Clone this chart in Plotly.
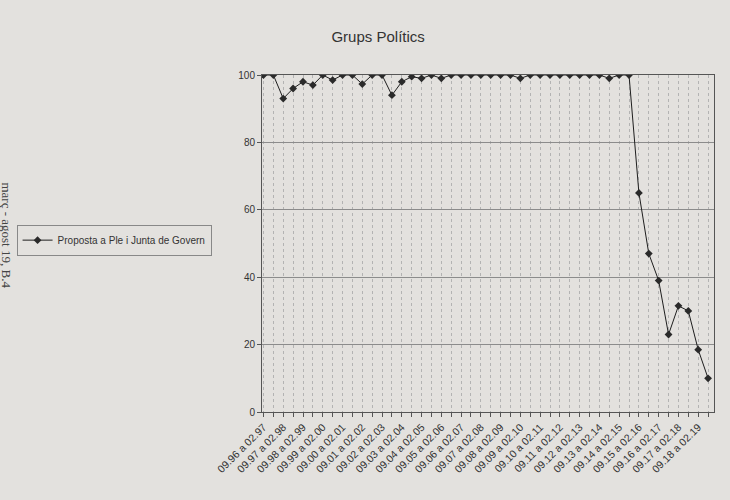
import plotly.graph_objects as go

periods = ["09.96 a 02.97", "09.97 a 02.98", "09.98 a 02.99", "09.99 a 02.00",
           "09.00 a 02.01", "09.01 a 02.02", "09.02 a 02.03", "09.03 a 02.04",
           "09.04 a 02.05", "09.05 a 02.06", "09.06 a 02.07", "09.07 a 02.08",
           "09.08 a 02.09", "09.09 a 02.10", "09.10 a 02.11", "09.11 a 02.12",
           "09.12 a 02.13", "09.13 a 02.14", "09.14 a 02.15", "09.15 a 02.16",
           "09.16 a 02.17", "09.17 a 02.18", "09.18 a 02.19"]

values = [100, 100, 93, 96, 98, 97, 100, 98.5, 100, 100,
          97.3, 100, 100, 94, 98, 99.5, 99, 100, 99, 100,
          100, 100, 100, 100, 100, 100, 99, 100, 100, 100,
          100, 100, 100, 100, 100, 99, 100, 100,
          65, 47, 39, 23, 31.5, 30, 18.5, 10]

series_name = "Proposta a Ple i Junta de Govern"

x = list(range(len(values)))
tick_text = []
for i in x:
    tick_text.append(periods[i // 2] if i % 2 == 0 else "")

fig = go.Figure()
fig.add_trace(go.Scatter(
    x=x, y=values, mode="lines+markers", name=series_name,
    line=dict(color="#1e1e1e", width=1),
    marker=dict(symbol="diamond", size=6, color="#2a2a2a"),
    showlegend=True,
))

fig.update_layout(
    width=730, height=500,
    paper_bgcolor="#e3e1de", plot_bgcolor="#e3e1de",
    margin=dict(l=262, r=16, t=75, b=88, autoexpand=False),
    font=dict(family="Liberation Sans, Arial, sans-serif", color="#333"),
    title=dict(text="Grups Polítics", x=0.518, xanchor="center",
               y=0.926, yanchor="middle", yref="container",
               font=dict(size=15, color="#333")),
    legend=dict(x=-0.543, xanchor="left", y=0.51, yanchor="middle",
                bgcolor="#e3e1de", bordercolor="#888", borderwidth=1,
                font=dict(size=10, color="#333")),
    annotations=[dict(text="març - agost 19, B.4", xref="paper", yref="paper",
                      x=-0.565, y=0.525, showarrow=False, textangle=90,
                      xanchor="center", yanchor="middle",
                      font=dict(family="Liberation Serif, serif", size=13, color="#444"))],
)

fig.update_xaxes(
    range=[-0.15, 45.6], tickmode="array", tickvals=x, ticktext=tick_text,
    tickangle=-45, tickfont=dict(size=10.5, color="#333"), automargin=False,
    showgrid=True, gridcolor="#b3b3b3", griddash="3px,3px", gridwidth=1,
    showline=True, linecolor="#555", linewidth=1, mirror=True,
    ticks="outside", ticklen=4, tickcolor="#555", zeroline=False,
)
fig.update_yaxes(
    range=[0, 100], tickvals=[0, 20, 40, 60, 80, 100], automargin=False,
    tickfont=dict(size=10, color="#333"),
    showgrid=True, gridcolor="#8c8c8c", gridwidth=1,
    showline=True, linecolor="#555", linewidth=1, mirror=True,
    ticks="outside", ticklen=4, tickcolor="#555", zeroline=False,
)

fig.write_html("out.html", config={"displayModeBar": False},
               post_script="document.body.style.margin='0';")
